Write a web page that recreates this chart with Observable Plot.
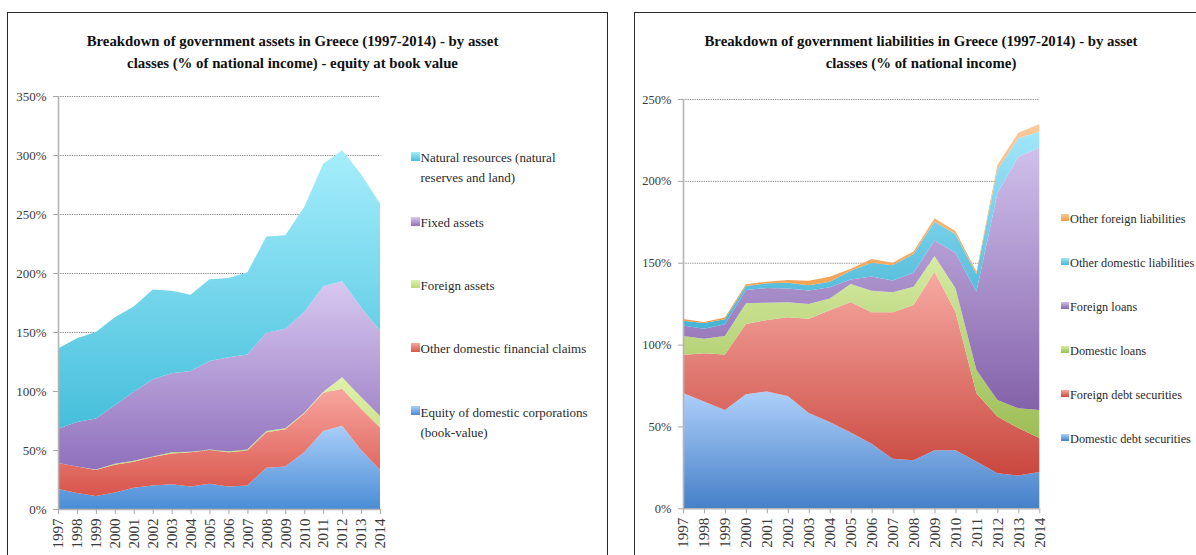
<!DOCTYPE html>
<html><head><meta charset="utf-8">
<script src="https://cdn.jsdelivr.net/npm/d3@7"></script>
<script src="https://cdn.jsdelivr.net/npm/@observablehq/plot@0.6"></script>
<style>
html,body{margin:0;padding:0;background:#fff;}
body{width:1196px;height:555px;overflow:hidden;position:relative;font-family:"Liberation Serif",serif;}
.panel{position:absolute;border:1.3px solid #2a2a2a;box-sizing:border-box;}
.txt{position:absolute;white-space:nowrap;font-family:"Liberation Serif",serif;}
.sw{position:absolute;}
.plot{position:absolute;}
</style></head>
<body>
<div class="panel" style="left:7px;top:11.5px;width:601px;height:620px;"></div>
<div class="panel" style="left:633.5px;top:11.5px;width:620px;height:620px;"></div>
<div id="leftPlot" class="plot" style="left:0px;top:80px;"></div>
<div id="rightPlot" class="plot" style="left:620px;top:80px;"></div>
<script>
// ---------- data ----------
const years = [1997,1998,1999,2000,2001,2002,2003,2004,2005,2006,2007,2008,2009,2010,2011,2012,2013,2014];

// Assets (% of national income), bottom to top
const assetNames = ["Equity of domestic corporations (book-value)","Other domestic financial claims","Foreign assets","Fixed assets","Natural resources (natural reserves and land)"];
const equityCorp    = [17, 13.5, 11, 14, 18, 20, 21, 19, 21.5, 19, 20, 35, 36, 48, 66, 70.5, 50, 33];
const otherClaims   = [22, 22.5, 22, 23.6, 22, 24, 26, 29, 28.5, 29, 29.5, 30, 31.5, 33, 32.6, 31.5, 35, 36];
const foreignAssets = [0, 0, 0.5, 0.8, 0.8, 0.5, 1, 0.5, 0.5, 1, 1, 1, 1, 0.6, 0.8, 9.6, 10, 9.8];
const fixedAssets   = [29, 37.7, 43.3, 49.6, 58.6, 65.5, 67, 68.5, 74.9, 79.5, 80.5, 83.4, 84.2, 85.4, 89.3, 81.4, 76, 72.2];
const naturalRes    = [68, 70.9, 73.2, 74.6, 72.3, 76, 70, 64.6, 69.2, 67.3, 69.6, 81.6, 79.3, 89, 103.9, 111, 112.7, 108];
const assetTicks = [0,50,100,150,200,250,300,350];
const assetLegend = [
  ["Natural resources (natural", "reserves and land)"],
  ["Fixed assets"],
  ["Foreign assets"],
  ["Other domestic financial claims"],
  ["Equity of  domestic corporations", "(book-value)"]
];

// Liabilities (% of national income), bottom to top
const liabNames = ["Domestic debt securities","Foreign debt securities","Domestic loans","Foreign loans","Other domestic liabilities","Other foreign liabilities"];
const domDebt   = [70.4, 65.3, 60.0, 69.6, 71.4, 68.6, 58.2, 52.7, 46.3, 39.4, 30.2, 29.4, 35.5, 35.5, 28.6, 21.4, 20.0, 22.2];
const forDebt   = [23.3, 29.4, 33.9, 43.0, 43.6, 48.1, 57.6, 68.3, 79.7, 80.4, 89.6, 94.7, 109.0, 84.6, 41.6, 34.6, 29.0, 20.7];
const domLoans  = [11.6, 8.9, 11.4, 12.6, 10.6, 9.1, 9.0, 7.2, 11.0, 13.1, 12.2, 11.2, 9.6, 14.3, 14.3, 10.2, 12.1, 17.1];
const forLoans  = [6.3, 6.1, 7.1, 8.2, 9.0, 8.4, 8.2, 6.8, 2.8, 8.7, 7.2, 8.6, 9.4, 21.7, 47.8, 126.2, 153.7, 160.3];
const otherDomL = [3.0, 3.5, 3.0, 2.4, 2.8, 3.6, 3.2, 3.4, 5.3, 8.4, 9.2, 11.4, 11.5, 11.5, 10.8, 14.6, 11.2, 9.7];
const otherForL = [1.0, 0.6, 1.1, 1.0, 1.0, 1.7, 2.8, 3.0, 1.2, 2.2, 1.6, 1.6, 2.1, 1.8, 1.4, 2.7, 3.4, 4.7];
const liabTicks = [0,50,100,150,200,250];

// gradient colours (top, bottom) per series
const assetColors = [["#aacdf9","#4a8dd5"],["#f8a69f","#d8554b"],["#e0f1aa","#bcd978"],["#d8c8f0","#8f70bc"],["#a6eefc","#45bfdb"]];
const liabColors  = [["#aed0fa","#4580c8"],["#f7aaa3","#c9473e"],["#d6eca3","#9cbd55"],["#d0c0ec","#8462aa"],["#a2e6fa","#45b4d4"],["#fcc99a","#f29a44"]];

// ---------- helpers ----------
function makeRows(names, arrays) {
  const rows = [];
  names.forEach((name, i) => years.forEach((yr, j) => rows.push({year: yr, series: name, value: arrays[i][j]})));
  return rows;
}
function addGradients(svg, prefix, colors) {
  const defs = d3.select(svg).insert("defs", ":first-child");
  colors.forEach((c, i) => {
    const g = defs.append("linearGradient").attr("id", prefix + i).attr("x1", 0).attr("y1", 0).attr("x2", 0).attr("y2", 1);
    g.append("stop").attr("offset", "0%").attr("stop-color", c[0]);
    g.append("stop").attr("offset", "100%").attr("stop-color", c[1]);
  });
}
const ASC = 0.891, LH = 1.107;
function placeText(lines, x, baseline, fs, opts = {}) {
  lines.forEach((t, k) => {
    const d = document.createElement("div");
    d.className = "txt";
    d.textContent = t;
    d.style.fontSize = fs + "px";
    d.style.lineHeight = (fs * LH) + "px";
    d.style.top = (baseline + k * (opts.lineGap || 0) - ASC * fs) + "px";
    if (opts.center) {
      d.style.left = (x - 400) + "px"; d.style.width = "800px"; d.style.textAlign = "center";
    } else d.style.left = x + "px";
    if (opts.bold) d.style.fontWeight = "bold";
    d.style.color = opts.color || "#222";
    document.body.appendChild(d);
  });
}
function swatch(x, y, size, c) {
  const s = document.createElement("div");
  s.className = "sw";
  s.style.left = x + "px"; s.style.top = y + "px";
  s.style.width = size + "px"; s.style.height = size + "px";
  s.style.background = `linear-gradient(${c[0]}, ${c[1]})`;
  document.body.appendChild(s);
}
function buildPlot(opts) {
  const rows = makeRows(opts.names, opts.arrays);
  const svg = Plot.plot({
    width: opts.width, height: opts.height,
    marginLeft: opts.ml, marginRight: opts.mr, marginTop: opts.mt, marginBottom: opts.mb,
    x: {domain: [1997, 2014], label: null},
    y: {domain: [0, opts.ymax], label: null},
    color: {domain: opts.names, range: opts.names.map((d, i) => `url(#${opts.prefix}${i})`)},
    style: {fontFamily: "Liberation Serif", background: "transparent", color: "#3a3a3a", overflow: "visible"},
    marks: [
      Plot.gridY(opts.ticks.filter(d => d > 0), {stroke: "#8a8a8a", strokeOpacity: 1, strokeDasharray: "1.3,1"}),
      Plot.areaY(rows, {x: "year", y: "value", fill: "series"}),
      Plot.ruleX([1997], {y1: 0, y2: opts.ymax, stroke: "#b4b4b4", strokeWidth: 1.6}),
      Plot.ruleY([0], {stroke: "#b4b4b4", strokeWidth: 1.6}),
      Plot.axisY(opts.ticks, {label: null, tickFormat: d => d + "%", tickSize: 5, tickPadding: 7, fontSize: opts.yfs, stroke: "#a8a8a8", fill: "#3a3a3a"}),
      Plot.axisX(years, {label: null, tickFormat: d => String(d), tickRotate: -90, tickSize: 5, tickPadding: 4, fontSize: 15, stroke: "#a8a8a8", fill: "#3a3a3a"})
    ]
  });
  addGradients(svg, opts.prefix, opts.colors);
  document.getElementById(opts.target).appendChild(svg);
}

// ---------- left: assets ----------
buildPlot({
  target: "leftPlot", prefix: "ga", names: assetNames,
  arrays: [equityCorp, otherClaims, foreignAssets, fixedAssets, naturalRes],
  colors: assetColors, ticks: assetTicks, ymax: 350,
  width: 400, height: 475, ml: 58, mr: 20, mt: 16, mb: 46, yfs: 13
});
placeText(["Breakdown of  government assets in Greece (1997-2014) - by asset", "classes (% of national income) - equity at book value"],
  292.5, 46, 14.8, {center: true, bold: true, lineGap: 22, color: "#111"});
const aBase = [163, 228, 290.5, 354, 417.3];
const aOrder = [4, 3, 2, 1, 0];
assetLegend.forEach((lines, k) => {
  swatch(411, aBase[k] - 11, 8.5, assetColors[aOrder[k]]);
  placeText(lines, 420.5, aBase[k], 13, {lineGap: 20, color: "#2a2a2a"});
});

// ---------- right: liabilities ----------
buildPlot({
  target: "rightPlot", prefix: "gl", names: liabNames,
  arrays: [domDebt, forDebt, domLoans, forLoans, otherDomL, otherForL],
  colors: liabColors, ticks: liabTicks, ymax: 250,
  width: 432, height: 475, ml: 63, mr: 12.7, mt: 19, mb: 46.7, yfs: 12.5
});
placeText(["Breakdown of  government liabilities in Greece (1997-2014) - by asset", "classes (% of national income)"],
  921, 46.5, 14.8, {center: true, bold: true, lineGap: 22, color: "#111"});
const lBase = [223.7, 267.7, 311.7, 355.7, 399.7, 443.7];
[5,4,3,2,1,0].forEach((si, k) => {
  swatch(1061, lBase[k] - 10, 7.5, liabColors[si]);
  placeText([liabNames[si]], 1070, lBase[k], 12.3, {color: "#2a2a2a"});
});
</script>
</body></html>
